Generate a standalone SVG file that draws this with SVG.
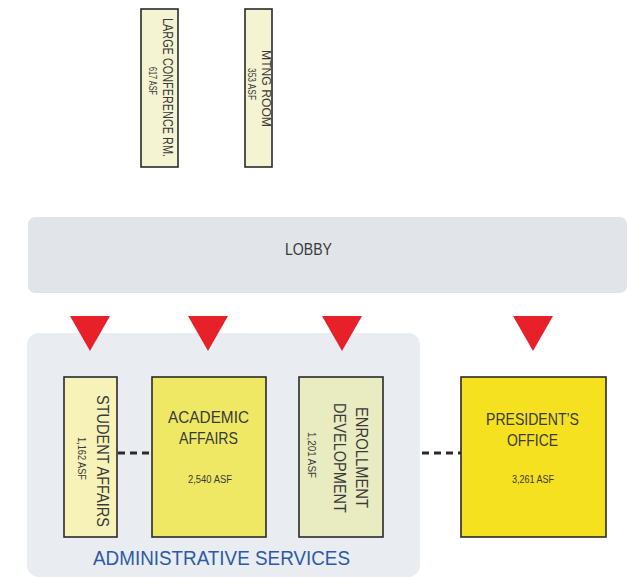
<svg xmlns="http://www.w3.org/2000/svg" width="641" height="577" viewBox="0 0 641 577">
<style>
  .box { stroke: #2a2a2a; stroke-width: 1.6; }
  .t { font-family: "Liberation Sans", Arial, sans-serif; fill: #3a3a3a; }
  .tri { fill: #e8202a; }
  .dash { stroke: #2a2a2a; stroke-width: 3; stroke-dasharray: 7 5; fill: none; }
</style>
<rect width="641" height="577" fill="#ffffff"/>

<g id="admin-services">
  <rect x="27" y="333" width="393" height="244" rx="12" fill="#e9ecf0"/>
  <text class="t" x="221.5" y="565" text-anchor="middle" font-size="20" textLength="257" lengthAdjust="spacingAndGlyphs" style="fill:#2d5aa6">ADMINISTRATIVE SERVICES</text>
</g>

<g id="large-conference">
  <rect class="box" x="141" y="9" width="37" height="158" fill="#f4f3d2"/>
  <text class="t" transform="translate(163,87.5) rotate(90)" text-anchor="middle" font-size="15" textLength="139" lengthAdjust="spacingAndGlyphs">LARGE CONFERENCE RM.</text>
  <text class="t" transform="translate(148.5,81) rotate(90)" text-anchor="middle" font-size="11" textLength="28" lengthAdjust="spacingAndGlyphs">617 ASF</text>
</g>

<g id="mtng-room">
  <rect class="box" x="245" y="9" width="27" height="158" fill="#f4f3d2"/>
  <text class="t" transform="translate(262,88.5) rotate(90)" text-anchor="middle" font-size="13" textLength="77" lengthAdjust="spacingAndGlyphs">MTNG ROOM</text>
  <text class="t" transform="translate(247.5,84) rotate(90)" text-anchor="middle" font-size="11" textLength="32" lengthAdjust="spacingAndGlyphs">353 ASF</text>
</g>

<g id="lobby">
  <rect x="28" y="217" width="599" height="76" rx="7" fill="#e1e4e8"/>
  <text class="t" x="308.5" y="255" text-anchor="middle" font-size="16" textLength="47" lengthAdjust="spacingAndGlyphs">LOBBY</text>
</g>

<g id="arrows">
  <polygon class="tri" points="70,316 110,316 90,351"/>
  <polygon class="tri" points="188,316 228,316 208,351"/>
  <polygon class="tri" points="322,316 362,316 342,351"/>
  <polygon class="tri" points="513,316 553,316 533,351"/>
</g>

<g id="connectors">
  <line class="dash" x1="118" y1="453" x2="152" y2="453"/>
  <line class="dash" x1="422" y1="453" x2="461" y2="453"/>
</g>

<g id="student-affairs">
  <rect class="box" x="64" y="377" width="53" height="160" fill="#f7f3b8"/>
  <text class="t" transform="translate(97,461) rotate(90)" text-anchor="middle" font-size="17" textLength="132" lengthAdjust="spacingAndGlyphs">STUDENT AFFAIRS</text>
  <text class="t" transform="translate(78,458.5) rotate(90)" text-anchor="middle" font-size="10" textLength="43" lengthAdjust="spacingAndGlyphs">1,162 ASF</text>
</g>

<g id="academic-affairs">
  <rect class="box" x="152" y="377" width="114" height="160" fill="#efe864"/>
  <text class="t" x="208.5" y="423" text-anchor="middle" font-size="17" textLength="81" lengthAdjust="spacingAndGlyphs">ACADEMIC</text>
  <text class="t" x="208.5" y="444" text-anchor="middle" font-size="17" textLength="59" lengthAdjust="spacingAndGlyphs">AFFAIRS</text>
  <text class="t" x="210" y="483" text-anchor="middle" font-size="10" textLength="44" lengthAdjust="spacingAndGlyphs">2,540 ASF</text>
</g>

<g id="enrollment-development">
  <rect class="box" x="299" y="377" width="84" height="160" fill="#e9ecc0"/>
  <text class="t" transform="translate(355.5,457.5) rotate(90)" text-anchor="middle" font-size="17" textLength="101" lengthAdjust="spacingAndGlyphs">ENROLLMENT</text>
  <text class="t" transform="translate(333.5,458) rotate(90)" text-anchor="middle" font-size="17" textLength="110" lengthAdjust="spacingAndGlyphs">DEVELOPMENT</text>
  <text class="t" transform="translate(307.5,455) rotate(90)" text-anchor="middle" font-size="10" textLength="46" lengthAdjust="spacingAndGlyphs">1,201 ASF</text>
</g>

<g id="presidents-office">
  <rect class="box" x="461" y="377" width="145" height="160" fill="#f5e11f"/>
  <text class="t" x="532.5" y="425" text-anchor="middle" font-size="17" textLength="93" lengthAdjust="spacingAndGlyphs">PRESIDENT’S</text>
  <text class="t" x="532.5" y="446" text-anchor="middle" font-size="17" textLength="51" lengthAdjust="spacingAndGlyphs">OFFICE</text>
  <text class="t" x="533" y="483" text-anchor="middle" font-size="10" textLength="42" lengthAdjust="spacingAndGlyphs">3,261 ASF</text>
</g>
</svg>
